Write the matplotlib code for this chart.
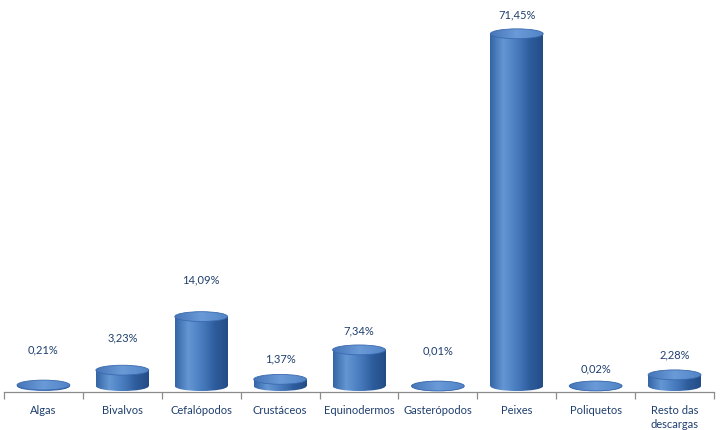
import numpy as np
import matplotlib
matplotlib.use("Agg")
import matplotlib.pyplot as plt
from matplotlib.colors import LinearSegmentedColormap
from matplotlib.patches import Ellipse, Rectangle

categories = ["Algas", "Bivalvos", "Cefalópodos", "Crustáceos", "Equinodermos",
              "Gasterópodos", "Peixes", "Poliquetos", "Resto das\ndescargas"]
values = [0.21, 3.23, 14.09, 1.37, 7.34, 0.01, 71.45, 0.02, 2.28]

# Excel's auto label placement is uneven, gap above each bar (data units)
label_gap = [7.1, 6.5, 7.4, 4.1, 3.8, 7.1, 3.9, 3.4, 4.0]

BAR_W = 0.67
CAP_H = 2.0          # ellipse height in data units
Y_MIN, Y_MAX = -1.2, 78.3
TEXT_COLOR = "#1F3F6E"

body_cmap = LinearSegmentedColormap.from_list(
    "body", ["#3464A5", "#6496D3", "#4A7DC0", "#2E5D9D", "#234C86"])
cap_cmap = LinearSegmentedColormap.from_list(
    "cap", ["#4676B8", "#6A9AD7", "#5284C6"])
grad = np.linspace(0, 1, 256).reshape(1, -1)

plt.rcParams["font.family"] = ["Lato", "DejaVu Sans"]

fig = plt.figure(figsize=(7.25, 4.3), dpi=100)
ax = fig.add_axes([4 / 725, 38 / 430, 710 / 725, 392 / 430])
ax.set_xlim(-0.5, len(categories) - 0.5)
ax.set_ylim(Y_MIN, Y_MAX)

for i, v in enumerate(values):
    x0, x1 = i - BAR_W / 2, i + BAR_W / 2
    # body (rectangle part + bottom half ellipse), gradient clipped
    rect = Rectangle((x0, 0), BAR_W, v, transform=ax.transData)
    bottom = Ellipse((i, 0), BAR_W, CAP_H, transform=ax.transData)
    for clip in (rect, bottom):
        im = ax.imshow(grad, cmap=body_cmap, aspect="auto",
                       extent=(x0, x1, -CAP_H, v + CAP_H), zorder=2,
                       interpolation="bilinear")
        im.set_clip_path(clip)
    # top cap
    cap = Ellipse((i, v), BAR_W, CAP_H, transform=ax.transData)
    im = ax.imshow(grad, cmap=cap_cmap, aspect="auto",
                   extent=(x0, x1, v - CAP_H, v + CAP_H), zorder=3,
                   interpolation="bilinear")
    im.set_clip_path(cap)
    ax.add_patch(Ellipse((i, v), BAR_W, CAP_H, facecolor="none",
                         edgecolor="#3A6AAE", linewidth=0.6, zorder=4))

    label = f"{v:.2f}".replace(".", ",") + "%"
    ax.text(i, v + label_gap[i], label, ha="center", va="center",
            fontsize=8, color=TEXT_COLOR, zorder=5)

for side in ("top", "right", "left"):
    ax.spines[side].set_visible(False)
ax.spines["bottom"].set_color("#8C8C8C")
ax.spines["bottom"].set_linewidth(0.9)
ax.spines["bottom"].set_position(("data", Y_MIN))

ax.set_yticks([])
ax.set_xticks(range(len(categories)))
ax.set_xticklabels(categories, fontsize=8, color=TEXT_COLOR, linespacing=1.4)
ax.tick_params(axis="x", which="major", length=0, pad=9)
ax.set_xticks(np.arange(-0.5, len(categories)), minor=True)
ax.tick_params(axis="x", which="minor", length=5, color="#8C8C8C", width=0.9)
ax.set_facecolor("white")

fig.savefig("out.png", dpi=100)
